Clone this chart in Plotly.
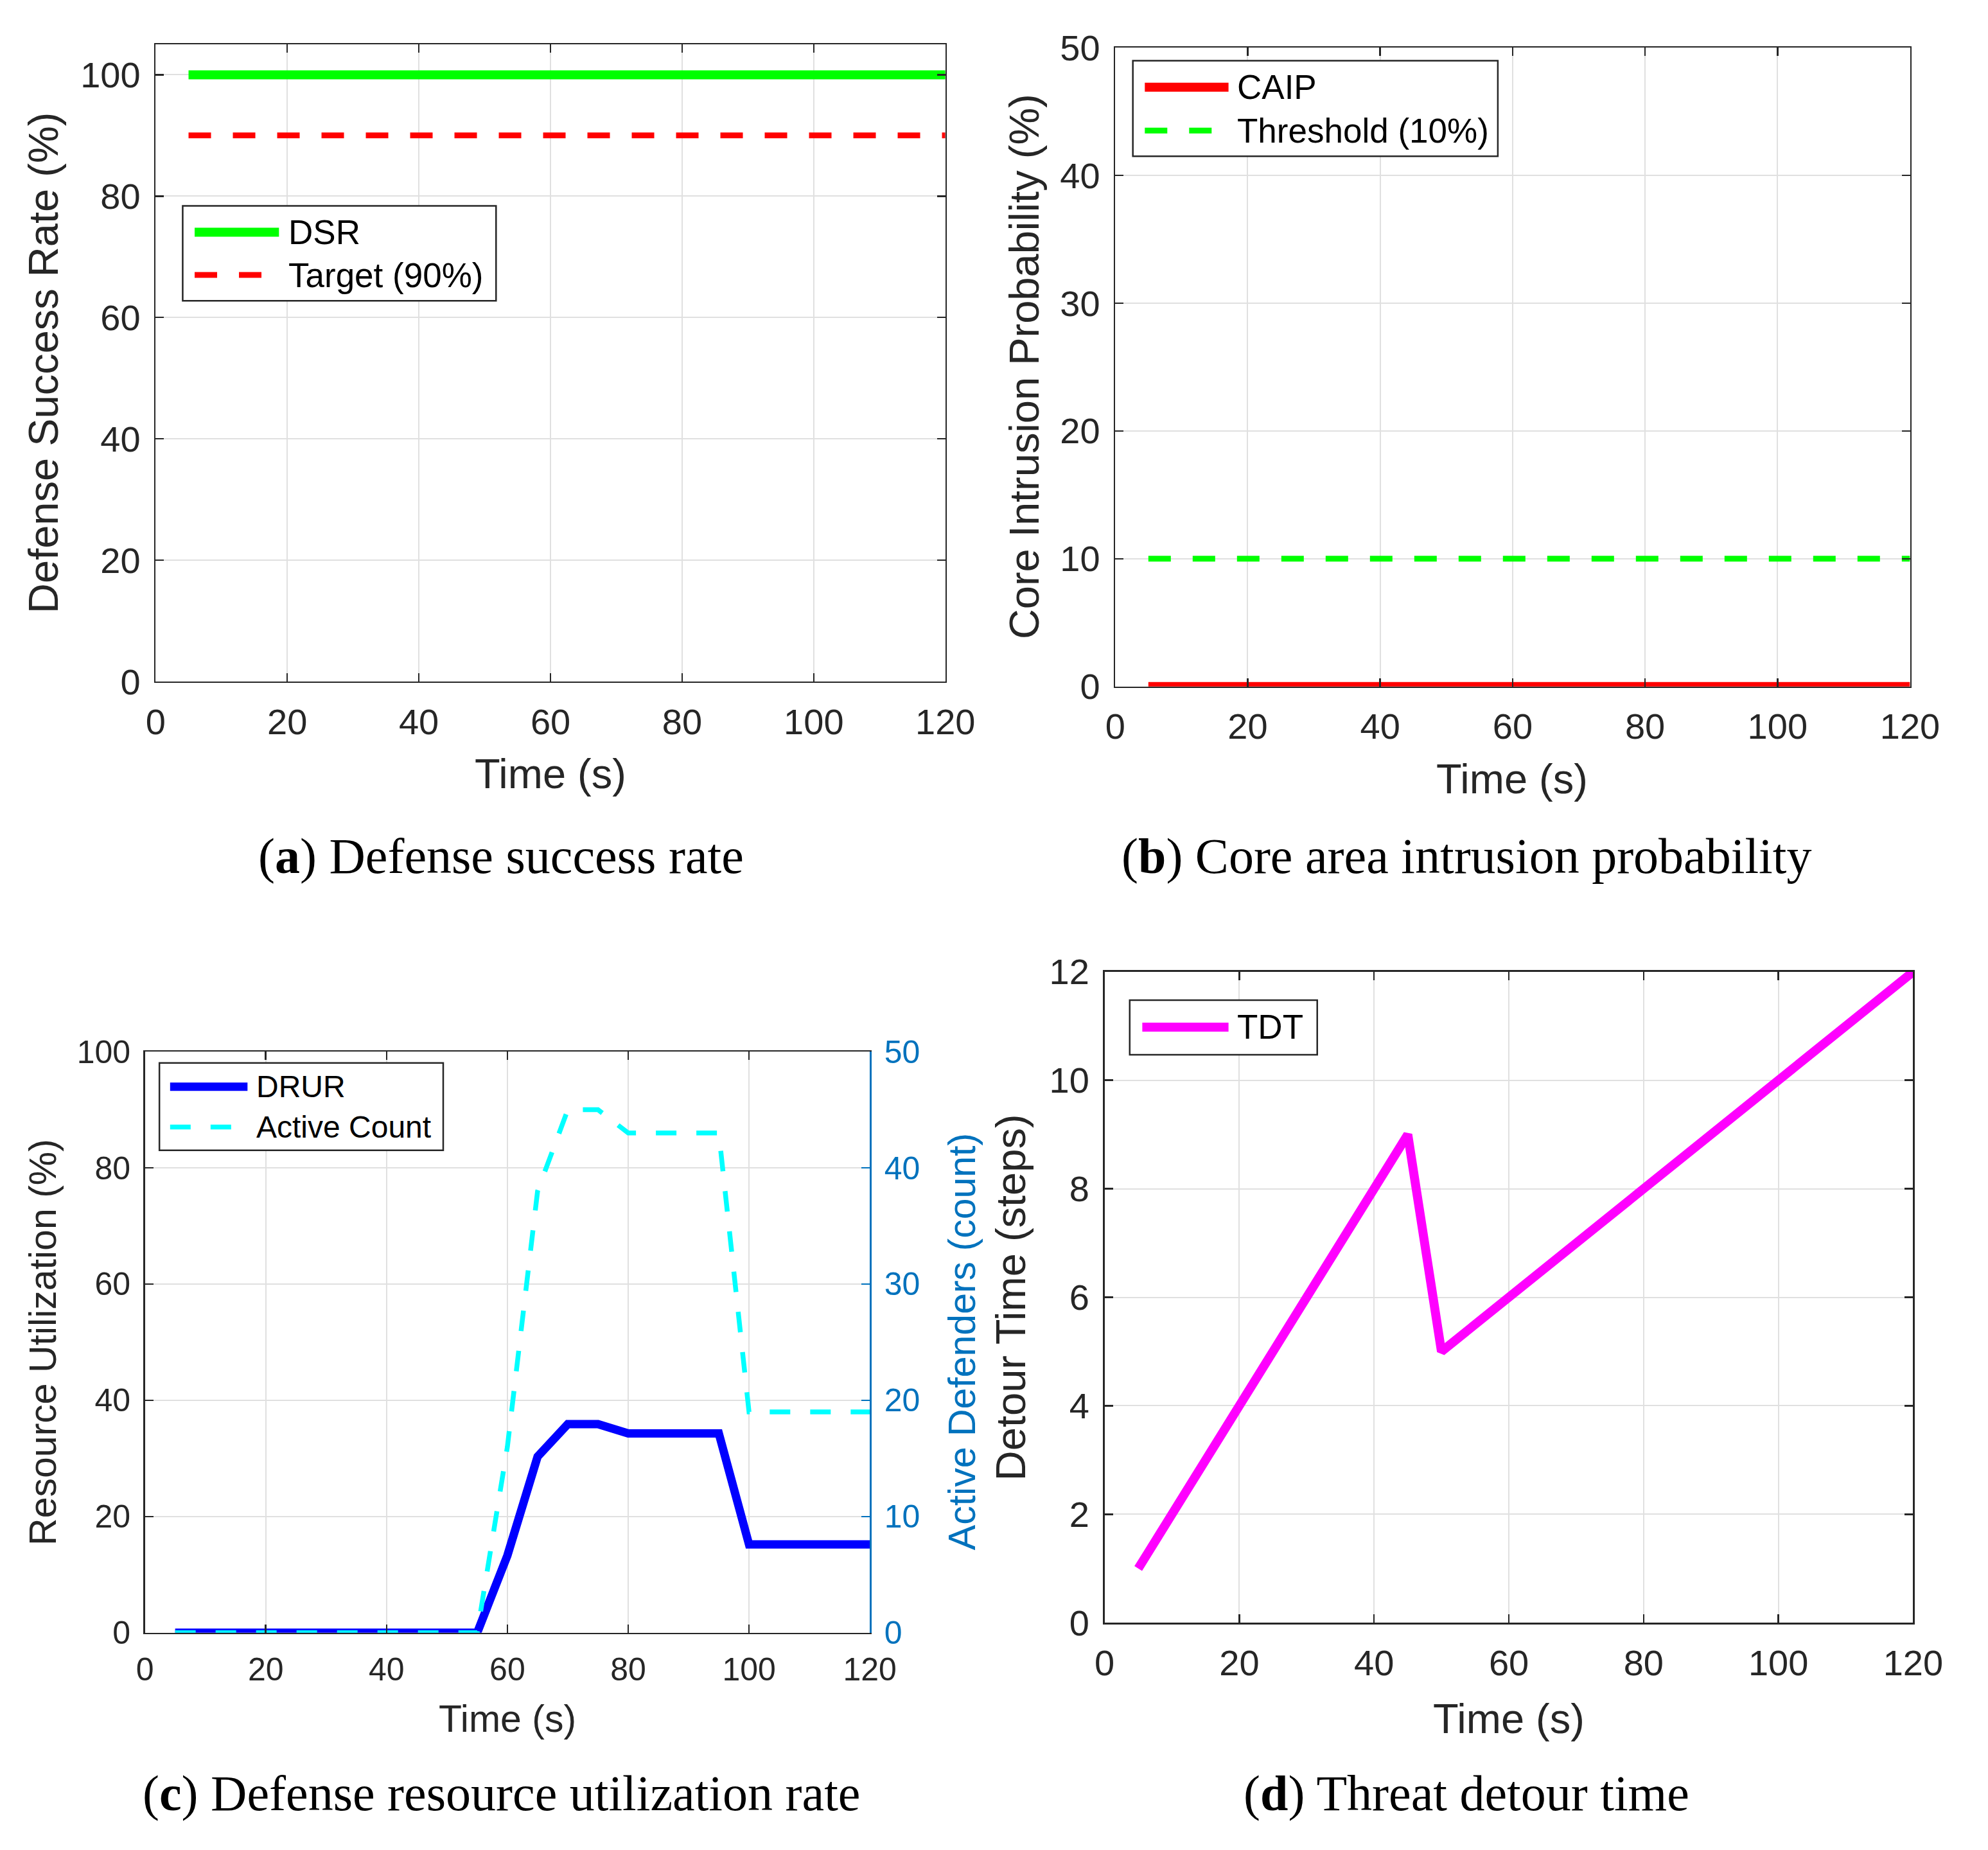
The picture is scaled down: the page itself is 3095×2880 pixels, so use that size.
import plotly.graph_objects as go

# ---------------- data ----------------
time_s = [5, 10, 15, 20, 25, 30, 35, 40, 45, 50, 55, 60,
          65, 70, 75, 80, 85, 90, 95, 100, 105, 110, 115, 120]

dsr = [100, 100, 100, 100, 100, 100, 100, 100, 100, 100, 100, 100,
       100, 100, 100, 100, 100, 100, 100, 100, 100, 100, 100, 100]
dsr_target = [90, 90, 90, 90, 90, 90, 90, 90, 90, 90, 90, 90,
              90, 90, 90, 90, 90, 90, 90, 90, 90, 90, 90, 90]

caip = [0, 0, 0, 0, 0, 0, 0, 0, 0, 0, 0, 0,
        0, 0, 0, 0, 0, 0, 0, 0, 0, 0, 0, 0]
caip_threshold = [10, 10, 10, 10, 10, 10, 10, 10, 10, 10, 10, 10,
                  10, 10, 10, 10, 10, 10, 10, 10, 10, 10, 10, 10]

drur = [0, 0, 0, 0, 0, 0, 0, 0, 0, 0, 0, 13.3,
        30.3, 35.9, 35.9, 34.3, 34.3, 34.3, 34.3, 15.2, 15.2, 15.2, 15.2, 15.2]
active_count = [0, 0, 0, 0, 0, 0, 0, 0, 0, 0, 0, 16,
                38, 45, 45, 43, 43, 43, 43, 19, 19, 19, 19, 19]

tdt = [1, 2, 3, 4, 5, 6, 7, 8, 9, 5, 5.5, 6,
       6.5, 7, 7.5, 8, 8.5, 9, 9.5, 10, 10.5, 11, 11.5, 12]

x_ticks = [0, 20, 40, 60, 80, 100, 120]

# ---------------- layout helpers ----------------
W, H = 3095, 2880
SANS = "Liberation Sans, Arial, Helvetica, sans-serif"
SERIF = "Liberation Serif, Times New Roman, serif"
AX = "#262626"
GRID = "#e0e0e0"
BLUE_AX = "#0072BD"


def px(x):
    return x / W


def py(y):
    return 1 - y / H


def axis_style(size, mirror=True, color=AX, grid=True, standoff=10):
    return dict(
        showline=True, linecolor=color, linewidth=2.5,
        mirror="ticks" if mirror else False,
        ticks="inside", ticklen=13, tickwidth=2.5, tickcolor=color,
        showgrid=grid, gridcolor=GRID, gridwidth=2,
        zeroline=False,
        tickfont=dict(family=SANS, size=size, color=color),
        ticklabelstandoff=standoff,
        fixedrange=True,
    )


fig = go.Figure()

# (a) Defense success rate
fig.add_trace(go.Scatter(x=time_s, y=dsr, mode="lines", name="DSR",
                         line=dict(color="#00FF00", width=14),
                         xaxis="x", yaxis="y", showlegend=False))
fig.add_trace(go.Scatter(x=time_s, y=dsr_target, mode="lines", name="Target (90%)",
                         line=dict(color="#FF0000", width=9, dash="35px,34px"),
                         xaxis="x", yaxis="y", showlegend=False))

# (b) Core area intrusion probability
fig.add_trace(go.Scatter(x=time_s, y=caip_threshold, mode="lines", name="Threshold (10%)",
                         line=dict(color="#00FF00", width=9, dash="35px,34px"),
                         xaxis="x2", yaxis="y2", showlegend=False))
fig.add_trace(go.Scatter(x=time_s, y=caip, mode="lines", name="CAIP",
                         line=dict(color="#FF0000", width=14),
                         xaxis="x2", yaxis="y2", showlegend=False))

# (c) Defense resource utilization rate
fig.add_trace(go.Scatter(x=time_s, y=drur, mode="lines", name="DRUR",
                         line=dict(color="#0000FF", width=13),
                         xaxis="x3", yaxis="y3", showlegend=False))
fig.add_trace(go.Scatter(x=time_s, y=active_count, mode="lines", name="Active Count",
                         line=dict(color="#00FFFF", width=7.5, dash="32px,31px"),
                         xaxis="x3", yaxis="y4", showlegend=False))

# (d) Threat detour time
fig.add_trace(go.Scatter(x=time_s, y=tdt, mode="lines", name="TDT",
                         line=dict(color="#FF00FF", width=14),
                         xaxis="x4", yaxis="y5", showlegend=False))

BIG = 56
SMALL = 50

fig.update_layout(
    width=W, height=H,
    margin=dict(l=0, r=0, t=0, b=0),
    paper_bgcolor="white", plot_bgcolor="white",
    showlegend=False,
    xaxis=dict(domain=[px(231), px(1486)], anchor="y", range=[0, 120],
               tickvals=x_ticks, **axis_style(BIG, standoff=12)),
    yaxis=dict(domain=[py(1053), py(39)], anchor="x", range=[0, 105],
               tickvals=[0, 20, 40, 60, 80, 100], **axis_style(BIG)),
    xaxis2=dict(domain=[px(1756), px(3019)], anchor="y2", range=[0, 120],
                tickvals=x_ticks, **axis_style(BIG, standoff=12)),
    yaxis2=dict(domain=[py(1061), py(44)], anchor="x2", range=[0, 50],
                tickvals=[0, 10, 20, 30, 40, 50], **axis_style(BIG)),
    xaxis3=dict(domain=[px(214), px(1366)], anchor="y3", range=[0, 120],
                tickvals=x_ticks, **axis_style(SMALL, standoff=12)),
    yaxis3=dict(domain=[py(2567), py(1642)], anchor="x3", range=[0, 100],
                tickvals=[0, 20, 40, 60, 80, 100], **axis_style(SMALL, mirror=False)),
    yaxis4=dict(overlaying="y3", anchor="x3", side="right", range=[0, 50],
                tickvals=[0, 10, 20, 30, 40, 50],
                **axis_style(SMALL, mirror=False, color=BLUE_AX, grid=False)),
    xaxis4=dict(domain=[px(1739), px(3024)], anchor="y5", range=[0, 120],
                tickvals=x_ticks, **axis_style(BIG, standoff=12)),
    yaxis5=dict(domain=[py(2551), py(1515)], anchor="x4", range=[0, 12],
                tickvals=[0, 2, 4, 6, 8, 10, 12], **axis_style(BIG)),
)

annotations = []
shapes = []


def text_at(x, y, text, size, color=AX, angle=0, family=SANS, xanchor="center"):
    annotations.append(dict(
        x=px(x), y=py(y), xref="paper", yref="paper", text=text,
        showarrow=False, textangle=angle, xanchor=xanchor, yanchor="middle",
        font=dict(family=family, size=size, color=color),
    ))


# axis titles
text_at(52, 546, "Defense Success Rate (%)", 65, angle=-90)
text_at(858, 1200, "Time (s)", 65)
text_at(1612, 552, "Core Intrusion Probability (%)", 65, angle=-90)
text_at(2387, 1208, "Time (s)", 65)
text_at(52, 2104, "Resource Utilization (%)", 59, angle=-90)
text_at(1513, 2104, "Active Defenders (count)", 59, color=BLUE_AX, angle=-90)
text_at(790, 2704, "Time (s)", 59)
text_at(1590, 2033, "Detour Time (steps)", 65, angle=-90)
text_at(2381, 2704, "Time (s)", 65)

# captions
text_at(780, 1331, "(<b>a</b>) Defense success rate", 78, color="black", family=SERIF)
text_at(2314, 1331, "(<b>b</b>) Core area intrusion probability", 78, color="black", family=SERIF)
text_at(780, 2822, "(<b>c</b>) Defense resource utilization rate", 78, color="black", family=SERIF)
text_at(2314, 2822, "(<b>d</b>) Threat detour time", 78, color="black", family=SERIF)


def legend_box(x0, y0, x1, y1, rows, size):
    shapes.append(dict(type="rect", xref="paper", yref="paper",
                       x0=px(x0), y0=py(y0), x1=px(x1), y1=py(y1),
                       line=dict(color=AX, width=2.5), fillcolor="white", layer="above"))
    for (sx0, sx1, ry, label, color, width, dash, tx) in rows:
        shapes.append(dict(type="line", xref="paper", yref="paper",
                           x0=px(sx0), y0=py(ry), x1=px(sx1), y1=py(ry),
                           line=dict(color=color, width=width, dash=dash), layer="above"))
        text_at(tx, ry, label, size, color="black", xanchor="left")


legend_box(274, 296, 772, 447, [
    (293, 427, 338, "DSR", "#00FF00", 14, "solid", 440),
    (293, 427, 406, "Target (90%)", "#FF0000", 9, "35px,34px", 440),
], 53)
legend_box(1784, 65, 2364, 217, [
    (1803, 1936, 107, "CAIP", "#FF0000", 14, "solid", 1948),
    (1803, 1936, 176, "Threshold (10%)", "#00FF00", 9, "35px,34px", 1948),
], 53)
legend_box(237, 1660, 688, 1799, [
    (254, 377, 1698, "DRUR", "#0000FF", 13, "solid", 389),
    (254, 377, 1762, "Active Count", "#00FFFF", 7.5, "32px,31px", 389),
], 48)
legend_box(1779, 1560, 2077, 1647, [
    (1799, 1936, 1603, "TDT", "#FF00FF", 14, "solid", 1948),
], 53)

fig.update_layout(annotations=annotations, shapes=shapes)

page_css = (
    "document.documentElement.style.margin='0';"
    "document.documentElement.style.padding='0';"
    "document.documentElement.style.overflow='hidden';"
    "document.body.style.margin='0';"
    "document.body.style.padding='0';"
    "document.body.style.overflow='hidden';"
)
fig.write_html("out.html", post_script=page_css,
               config={"displayModeBar": False, "staticPlot": True})
